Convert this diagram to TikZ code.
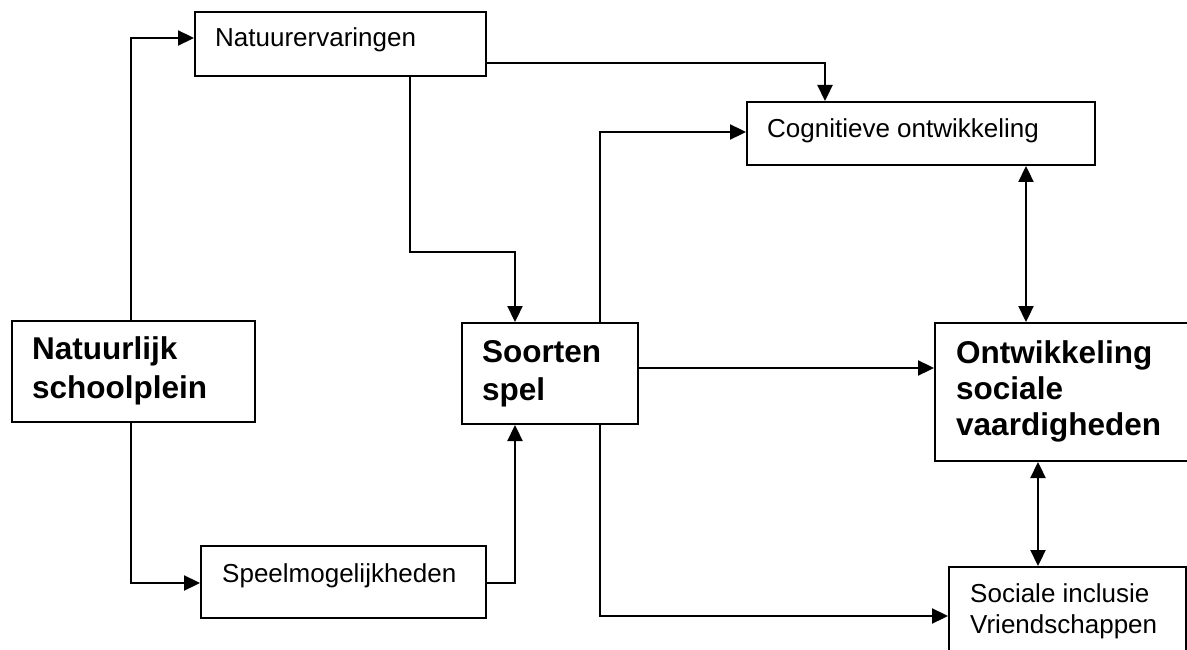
\documentclass[tikz,border=0pt]{standalone}
\usepackage{fontspec}
\setmainfont{Liberation Sans}
\usetikzlibrary{arrows.meta}
\begin{document}
\begin{tikzpicture}[x=1pt,y=-1pt,
  box/.style={draw, line width=2pt, inner sep=0pt, anchor=north west, rectangle},
  lbl/.style={inner sep=0pt, anchor=base west, align=left, font=\fontsize{26}{31}\selectfont},
  blbl/.style={inner sep=0pt, anchor=base west, align=left},
  tip/.style={-{Triangle[length=16pt,width=15pt]}},
  conn/.style={line width=2.3pt, tip},
  dconn/.style={line width=2.3pt, {Triangle[length=16pt,width=15pt]}-{Triangle[length=16pt,width=15pt]}}]
\useasboundingbox (0,0) rectangle (1187,650);
\fill[white] (0,0) rectangle (1187,650);
\clip (0,0) rectangle (1187,650);
% boxes
\node[box, minimum width=291pt, minimum height=64pt] (ne) at (194,11) {};
\node[box, minimum width=348pt, minimum height=63pt] (cog) at (746,101) {};
\node[box, minimum width=243pt, minimum height=101pt] (nl) at (11,320) {};
\node[box, minimum width=176pt, minimum height=101pt] (so) at (461,322) {};
\node[box, minimum width=270pt, minimum height=138pt] (on) at (934,322) {};
\node[box, minimum width=237pt, minimum height=100pt] (soc) at (948,566) {};
\node[box, minimum width=285pt, minimum height=72pt] (sp) at (200,545) {};
% texts (multi-line nodes: base = last line)
\node[lbl] (ne-t) at (215,47) {Natuurervaringen};
\node[lbl] (cog-t) at (767,138) {Cognitieve ontwikkeling};
\node[lbl] (sp-t) at (222,582) {Speelmogelijkheden};
\node[lbl] (soc-t) at (970,633) {Sociale inclusie\\Vriendschappen};
\node[blbl, font=\fontsize{31.5}{39}\selectfont\bfseries] (nl-t) at (32,398) {Natuurlijk\\schoolplein};
\node[blbl, font=\fontsize{31.5}{38}\selectfont\bfseries] (so-t) at (482,400) {Soorten\\spel};
\node[blbl, font=\fontsize{31.5}{36}\selectfont\bfseries] (on-t) at (956,435) {Ontwikkeling\\sociale\\vaardigheden};
% connectors
\draw[conn] (131,0 |- nl.north) |- (ne.west |- 0,38);
\draw[conn] (ne.east |- 0,63) -| (825,0 |- cog.north);
\draw[conn] (410,0 |- ne.south) |- (515,252) -- (515,0 |- so.north);
\draw[conn] (600,0 |- so.north) |- (cog.west |- 0,132);
\draw[dconn] (1026,0 |- cog.south) -- (1026,0 |- on.north);
\draw[conn] (so.east |- 0,368) -- (on.west |- 0,368);
\draw[dconn] (1038,0 |- on.south) -- (1038,0 |- soc.north);
\draw[conn] (600,0 |- so.south) |- (soc.west |- 0,616);
\draw[conn] (131,0 |- nl.south) |- (sp.west |- 0,583);
\draw[conn] (sp.east |- 0,583) -| (515,0 |- so.south);
\end{tikzpicture}
\end{document}
